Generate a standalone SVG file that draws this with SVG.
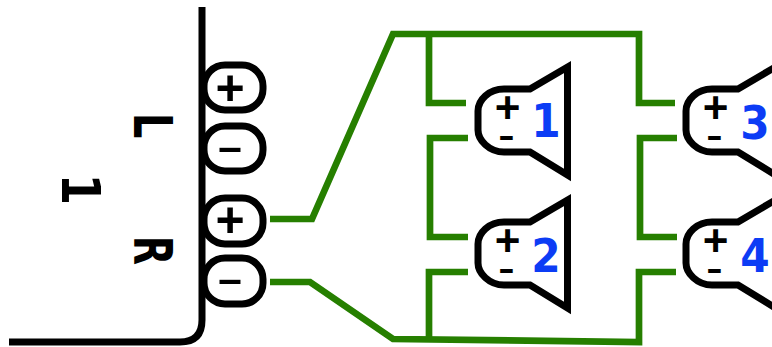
<svg xmlns="http://www.w3.org/2000/svg" width="772" height="347" viewBox="0 0 772 347">
<style>
.blk{fill:none;stroke:#000;stroke-width:7;stroke-linejoin:round}
.term{fill:#fff;stroke:#000;stroke-width:7}
.spk{fill:#fff;stroke:#000;stroke-width:7;stroke-linejoin:miter}
.w{fill:none;stroke:#267f00;stroke-width:6.7;stroke-linejoin:miter}
.sign{font-family:"Liberation Sans",Arial,sans-serif;font-weight:700;fill:#000;text-anchor:middle}
.lab{font-family:"DejaVu Sans",sans-serif;font-weight:700;font-size:53px;fill:#000;text-anchor:middle}
.num{font-family:"DejaVu Sans",sans-serif;font-weight:700;font-size:47px;fill:#0c3cf5;text-anchor:middle}
</style>
<defs>
<g id="spkbody">
<path class="spk" d="M567.5 67V175L530 152H504C489 152 478 140 478 130V111C478 100 489 89 504 89H530Z"/>
<text class="sign" x="507.5" y="122.5" font-size="44">+</text>
<text class="sign" transform="translate(506.5 147) scale(1.45 1)" font-size="34">-</text>
</g>
</defs>
<g id="amp">
<path class="blk" d="M202 7V320Q202 342 180 342H9"/>
<g id="t1"><rect class="term" x="204" y="65" width="59" height="45" rx="21" ry="21"/><text class="sign" x="230" y="105" font-size="50">+</text></g>
<g id="t2"><rect class="term" x="204" y="126" width="59" height="45" rx="21" ry="21"/><text class="sign" transform="translate(230 159) scale(2.3 1)" font-size="36">-</text></g>
<g id="t3"><rect class="term" x="204" y="198" width="59" height="46" rx="21" ry="21"/><text class="sign" x="230" y="237" font-size="50">+</text></g>
<g id="t4"><rect class="term" x="204" y="258" width="59" height="46" rx="21" ry="21"/><text class="sign" transform="translate(230 291) scale(2.3 1)" font-size="36">-</text></g>
<text class="lab" transform="translate(134 125.5) rotate(90) scale(.76 1)">L</text>
<text class="lab" transform="translate(134 250.5) rotate(90) scale(.72 1)">R</text>
<text class="lab" transform="translate(62 189.5) rotate(90) scale(.85 1)">1</text>
</g>
<g id="connectors">
<path class="w" d="M270 219H312L393 34H639V103H675"/>
<path class="w" d="M429 34V103H466"/>
<path class="w" d="M468 138H430V237H468"/>
<path class="w" d="M468 272H429V340"/>
<path class="w" d="M270 282H310L393 339L639 342V272H676"/>
<path class="w" d="M677 138H640V237H677"/>
</g>
<g id="speaker1"><use href="#spkbody"/><text class="num" transform="translate(546 137) scale(.9 1)">1</text></g>
<g id="speaker2"><use href="#spkbody" y="133"/><text class="num" transform="translate(546 272) scale(.9 1)">2</text></g>
<g id="speaker3"><use href="#spkbody" x="208"/><text class="num" transform="translate(755 139) scale(.9 1)">3</text></g>
<g id="speaker4"><use href="#spkbody" x="208" y="133"/><text class="num" transform="translate(755 272) scale(.9 1)">4</text></g>
</svg>
